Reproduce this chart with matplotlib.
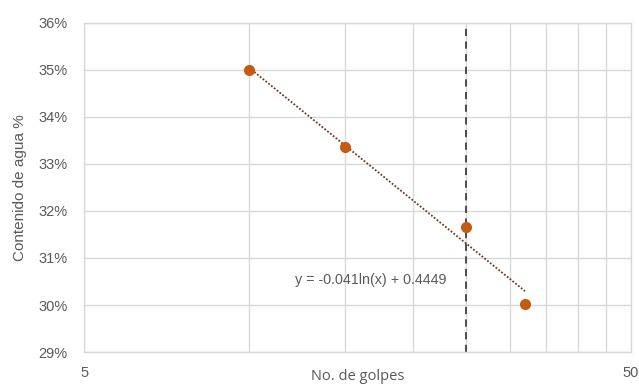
import numpy as np
import matplotlib
matplotlib.use("Agg")
import matplotlib.pyplot as plt
from matplotlib.ticker import FixedLocator, NullFormatter, FuncFormatter

# datos
golpes = [10, 15, 25, 32]
humedad = [0.350, 0.3336, 0.3167, 0.3002]
golpes_ref = 25
ecuacion = "y = -0.041ln(x) + 0.4449"
grid_x = [10, 15, 20, 25, 30, 35, 40, 45]
y_ticks = [0.29, 0.30, 0.31, 0.32, 0.33, 0.34, 0.35, 0.36]

plt.rcParams['font.family'] = ['Liberation Sans', 'DejaVu Sans']
gris = '#595959'

fig = plt.figure(figsize=(6.39, 3.85), dpi=100)
ax = fig.add_axes([0.1315, 0.0857, 0.856, 0.8546])

ax.set_xscale('log')
ax.set_xlim(5, 50)
ax.set_ylim(0.29, 0.36)

# lineas de cuadricula
ax.xaxis.set_major_locator(FixedLocator([5, 50]))
ax.xaxis.set_minor_locator(FixedLocator(grid_x))
ax.xaxis.set_major_formatter(FuncFormatter(lambda v, p: "%d" % v))
ax.xaxis.set_minor_formatter(NullFormatter())
ax.set_yticks(y_ticks)
ax.yaxis.set_major_formatter(FuncFormatter(lambda v, p: "%d%%" % round(v * 100)))
ax.grid(True, which='both', color='#d9d9d9', lw=1)
ax.set_axisbelow(True)
for s in ax.spines.values():
    s.set_color('#d9d9d9')
    s.set_linewidth(1)
ax.tick_params(which='both', length=0, colors=gris, labelsize=10.5)
ax.tick_params(axis='x', pad=10)
ax.tick_params(axis='y', pad=12)

# linea de tendencia logaritmica
b, a = np.polyfit(np.log(golpes), humedad, 1)
xt = np.linspace(min(golpes), max(golpes), 100)
ax.plot(xt, a + b * np.log(xt), color='#6b3a22', lw=1.3, ls=(0, (1, 1)), zorder=3)

ax.axvline(golpes_ref, color='#404040', lw=1.3, ls=(0, (4, 3)), ymin=0, ymax=1, zorder=2)

ax.plot(golpes, humedad, 'o', color='#c55a11', ms=7, zorder=4)

ax.text(16.7, 0.3053, ecuacion, color=gris, fontsize=10.3, ha='center', va='center')

ax.set_ylabel("Contenido de agua %", color=gris, fontsize=11, labelpad=8)
ax.set_xlabel("No. de golpes", color=gris, fontsize=10.5, labelpad=-8, family=['Open Sans', 'DejaVu Sans'])

fig.savefig("out.png", dpi=100)
